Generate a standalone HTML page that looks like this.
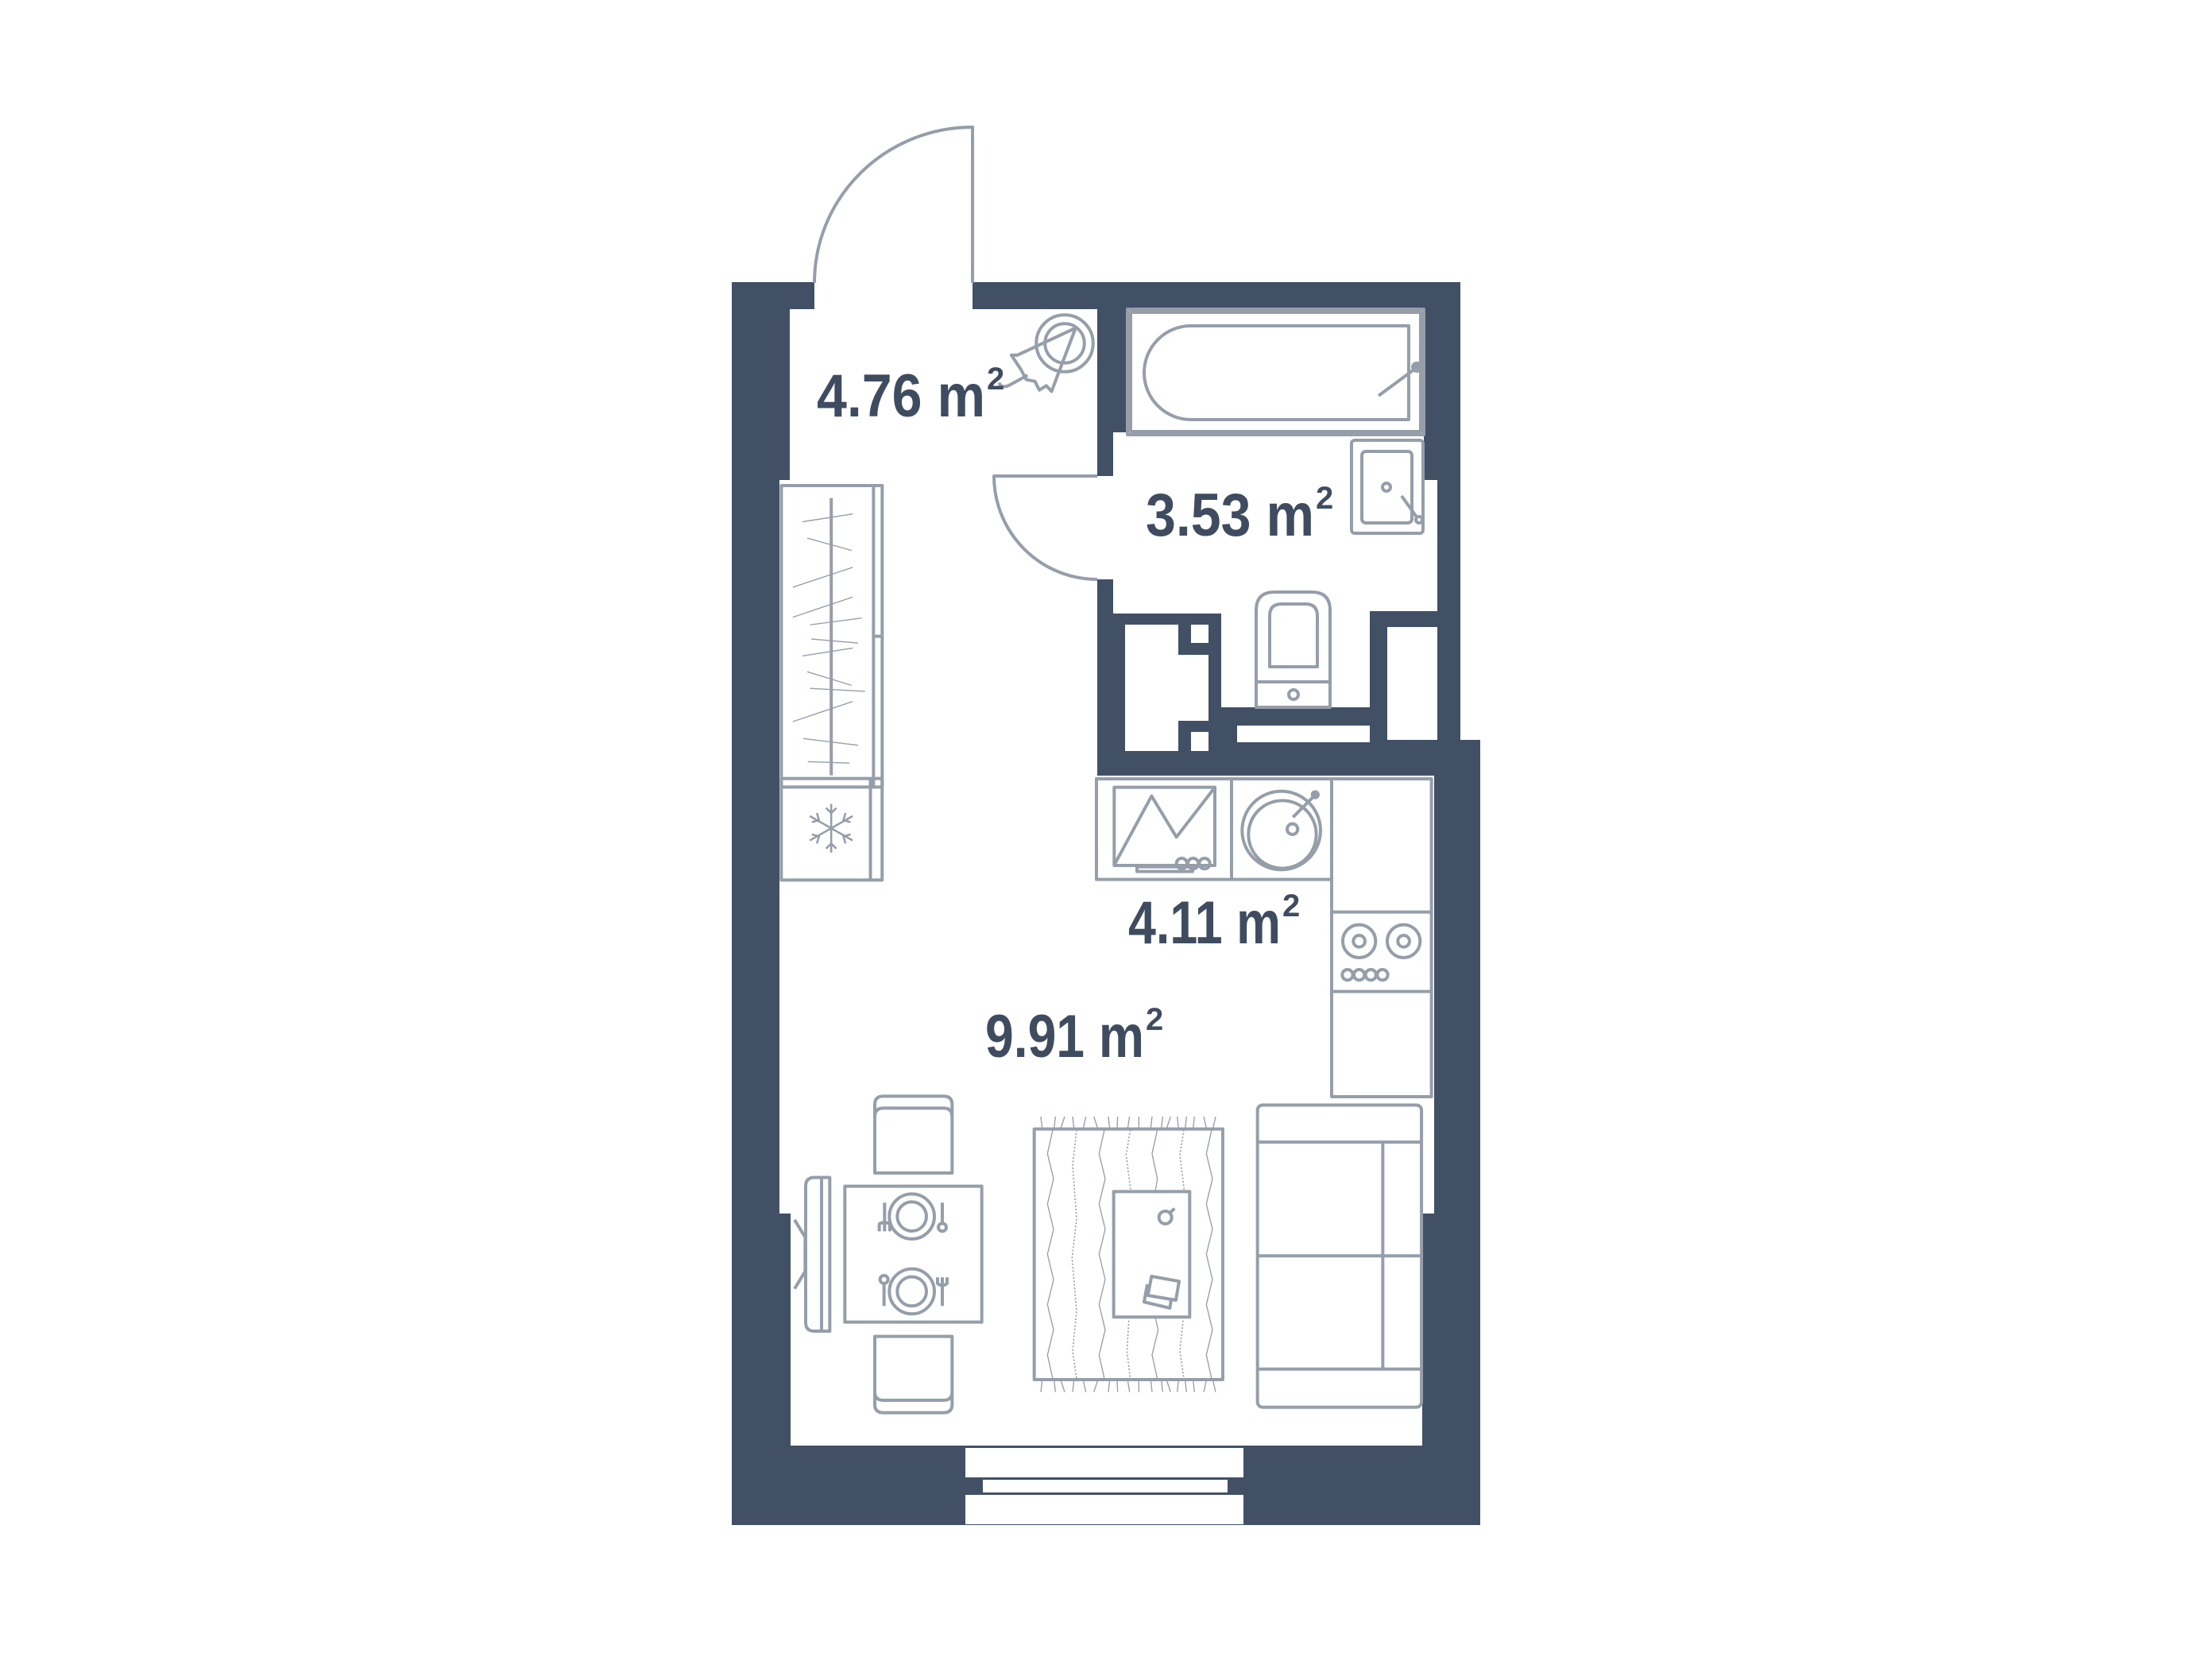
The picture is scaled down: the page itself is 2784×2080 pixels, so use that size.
<!DOCTYPE html>
<html><head><meta charset="utf-8"><style>
html,body{margin:0;padding:0;background:#fff;}
svg{display:block;}
.l{fill:none;stroke:#959ea9;stroke-width:4;vector-effect:non-scaling-stroke;stroke-linejoin:round;}
.w{fill:#425066;}
.t{font-family:"Liberation Sans",sans-serif;font-weight:bold;fill:#3f4c60;}
</style></head><body>
<svg width="2784" height="2080" viewBox="0 0 2784 2080" xmlns="http://www.w3.org/2000/svg">
<rect width="2784" height="2080" fill="#fff"/>
<g class="w">
<rect x="921" y="355" width="73" height="249"/>
<rect x="921" y="604" width="60" height="923"/>
<rect x="921" y="1527" width="74" height="391"/>
<rect x="921" y="355" width="104" height="34"/>
<rect x="1224" y="355" width="614" height="34"/>
<rect x="1381" y="389" width="38" height="155"/>
<rect x="1381" y="544" width="20" height="55"/>
<rect x="1381" y="729" width="20" height="247"/>
<rect x="1792" y="389" width="46" height="215"/>
<rect x="1809" y="604" width="29" height="327"/>
<rect x="1401" y="772" width="136" height="187"/>
<rect x="1537" y="890" width="187" height="69"/>
<rect x="1724" y="769" width="85" height="190"/>
<rect x="1381" y="931" width="482" height="45"/>
<rect x="1805" y="931" width="58" height="596"/>
<rect x="1790" y="1527" width="73" height="391"/>
<rect x="921" y="1819" width="942" height="100"/>
</g>
<g fill="#fff">
<rect x="1416" y="786" width="67" height="159"/>
<rect x="1483" y="824" width="38" height="83"/>
<rect x="1499" y="786" width="22" height="23"/>
<rect x="1499" y="921" width="22" height="24"/>
<rect x="1557" y="913" width="167" height="21"/>
<rect x="1746" y="789" width="63" height="142"/>
<rect x="1215" y="1822" width="350" height="37"/>
<rect x="1237" y="1862" width="308" height="16"/>
<rect x="1215" y="1881" width="350" height="37"/>
</g>
<path class="l" d="M1025,356 A199,196 0 0 1 1224,160 L1224,356"/>
<path class="l" d="M1381,599 L1251,599 A130,130 0 0 0 1381,729"/>
<g transform="translate(1340,432) scale(0.55) translate(-180,-185)">
<circle class="l" cx="180" cy="185" r="65"/>
<circle class="l" cx="180" cy="185" r="45" fill="#fff"/>
<path class="l" fill="#fff" d="M205,150 L150,295 L138,282 L122,292 L112,272 L92,268 L80,245 L58,212 L72,212 Z"/>
<path class="l" d="M95,258 L55,280 Q35,290 30,275"/>
</g>
<rect class="l" x="1419" y="389" width="373" height="158"/>
<rect class="l" x="1423" y="393" width="365" height="150"/>
<path class="l" d="M1499,410 L1773,410 L1773,528 L1499,528 A59,59 0 0 1 1499,410 Z"/>
<circle cx="1783" cy="462" r="7" fill="#959ea9"/>
<line class="l" x1="1781" y1="464" x2="1735" y2="498"/>
<rect class="l" x="1701" y="554" width="90" height="117" rx="4"/>
<rect class="l" x="1714" y="568" width="63" height="90" rx="5"/>
<circle class="l" cx="1745" cy="613" r="5"/>
<line class="l" x1="1764" y1="624" x2="1784" y2="652"/>
<circle class="l" cx="1786" cy="654" r="4"/>
<path class="l" d="M1581,890 L1581,768 Q1581,745 1604,745 L1651,745 Q1674,745 1674,768 L1674,890 Z"/>
<path class="l" d="M1598,839 L1598,775 Q1598,760 1613,760 L1643,760 Q1658,760 1658,775 L1658,839 Z"/>
<line class="l" x1="1581" y1="858" x2="1674" y2="858"/>
<circle class="l" cx="1628" cy="874" r="6"/>
<g transform="translate(980,600) scale(0.343)">
<rect class="l" x="10" y="32" width="370" height="1106"/>
<line class="l" x1="348" y1="35" x2="348" y2="1138"/>
<line class="l" x1="348" y1="585" x2="380" y2="585"/>
<line class="l" x1="193" y1="78" x2="193" y2="1095"/>
<g class="l">
<line x1="87" y1="165" x2="272" y2="136"/>
<line x1="105" y1="225" x2="268" y2="270"/>
<line x1="52" y1="405" x2="272" y2="332"/>
<line x1="52" y1="515" x2="272" y2="441"/>
<line x1="115" y1="543" x2="305" y2="518"/>
<line x1="120" y1="595" x2="292" y2="610"/>
<line x1="88" y1="657" x2="272" y2="628"/>
<line x1="105" y1="715" x2="268" y2="765"/>
<line x1="115" y1="776" x2="317" y2="787"/>
<line x1="52" y1="898" x2="272" y2="824"/>
<line x1="90" y1="960" x2="292" y2="985"/>
<line x1="107" y1="1045" x2="260" y2="1050"/>
</g>
</g>
<g transform="translate(900,940) scale(0.641,0.639)">
<rect class="l" x="130" y="62" width="198" height="200"/>
<line class="l" x1="305" y1="62" x2="305" y2="262"/>
<g class="l">
<line x1="228" y1="112" x2="228" y2="208"/>
<line x1="186" y1="136" x2="270" y2="184"/>
<line x1="186" y1="184" x2="270" y2="136"/>
<path d="M218,120 L228,130 L238,120 M218,200 L228,190 L238,200 M190,148 L204,144 L200,130 M266,172 L252,176 L256,190 M190,172 L204,176 L200,190 M266,148 L252,144 L256,130"/>
</g>
</g>
<g transform="translate(1370,970) scale(0.3333)">
<rect class="l" x="30" y="30" width="888" height="380"/>
<line class="l" x1="540" y1="30" x2="540" y2="410"/>
<rect class="l" x="918" y="30" width="377" height="1200"/>
<line class="l" x1="918" y1="533" x2="1295" y2="533"/>
<line class="l" x1="918" y1="833" x2="1295" y2="833"/>
<rect class="l" x="97" y="62" width="380" height="295"/>
<path class="l" d="M100,350 L238,95 L332,250 L475,65"/>
<rect class="l" x="183" y="362" width="210" height="18"/>
<circle class="l" cx="352" cy="350" r="20" fill="#fff"/>
<circle class="l" cx="395" cy="350" r="20" fill="#fff"/>
<circle class="l" cx="438" cy="350" r="20" fill="#fff"/>
<circle class="l" cx="728" cy="225" r="148"/>
<circle class="l" cx="732" cy="240" r="128"/>
<circle class="l" cx="770" cy="220" r="20"/>
<line class="l" x1="772" y1="175" x2="855" y2="92"/>
<circle cx="856" cy="90" r="17" fill="#959ea9"/>
<circle class="l" cx="1022" cy="643" r="62"/>
<circle class="l" cx="1022" cy="643" r="22"/>
<circle class="l" cx="1190" cy="643" r="62"/>
<circle class="l" cx="1190" cy="643" r="22"/>
<circle class="l" cx="978" cy="770" r="20"/>
<circle class="l" cx="1022" cy="770" r="20"/>
<circle class="l" cx="1066" cy="770" r="20"/>
<circle class="l" cx="1110" cy="770" r="20"/>
</g>
<g transform="translate(1000,1360) scale(0.3333)">
<path class="l" d="M303,348 L303,90 Q303,58 335,58 L563,58 Q595,58 595,90 L595,348 Z"/>
<path class="l" d="M303,135 Q303,103 335,103 L563,103 Q595,103 595,135"/>
<path class="l" d="M303,965 L303,1222 Q303,1253 335,1253 L563,1253 Q595,1253 595,1222 L595,965 Z"/>
<path class="l" d="M303,1175 Q303,1206 335,1206 L563,1206 Q595,1206 595,1175"/>
<rect class="l" x="190" y="398" width="517" height="513"/>
<circle class="l" cx="443" cy="512" r="85"/>
<circle class="l" cx="443" cy="512" r="55"/>
<circle class="l" cx="443" cy="795" r="85"/>
<circle class="l" cx="443" cy="795" r="55"/>
<path class="l" d="M340,460 L340,565 M320,568 L320,540 Q340,530 360,540 L360,568 M340,540 L340,568"/>
<line class="l" x1="558" y1="460" x2="558" y2="540"/>
<circle class="l" cx="558" cy="553" r="15"/>
<line class="l" x1="338" y1="760" x2="338" y2="850"/>
<circle class="l" cx="338" cy="750" r="15"/>
<path class="l" d="M558,742 L558,850 M540,742 L540,765 Q558,780 576,765 L576,742"/>
<path class="l" d="M133,945 L75,945 Q42,945 42,912 L42,398 Q42,365 75,365 L133,365 Z"/>
<line class="l" x1="102" y1="365" x2="102" y2="945"/>
<path class="l" d="M0,525 L40,590 L40,720 L0,785"/>
</g>
<g transform="translate(1300,1400) scale(0.3333)">
<rect class="l" x="5" y="62" width="712" height="946"/>
<g class="l">
<path d="M30,15 L35,60 M85,15 L80,60 M120,15 L105,60 M150,15 L155,60 M200,15 L190,60 M230,15 L245,60 M285,15 L290,60 M320,15 L318,60 M365,15 L358,60 M400,15 L400,60 M450,15 L445,60 M490,15 L485,60 M520,15 L505,60 M545,15 L550,60 M580,15 L575,60 M610,15 L605,60 M645,15 L655,60 M690,15 L680,60"/>
<path d="M30,1055 L35,1010 M85,1055 L80,1010 M120,1055 L105,1010 M150,1055 L155,1010 M200,1055 L190,1010 M230,1055 L245,1010 M285,1055 L290,1010 M320,1055 L318,1010 M365,1055 L358,1010 M400,1055 L400,1010 M450,1055 L445,1010 M490,1055 L485,1010 M520,1055 L505,1010 M545,1055 L550,1010 M580,1055 L575,1010 M610,1055 L605,1010 M645,1055 L655,1010 M690,1055 L680,1010"/>
<path d="M75,65 L55,155 L78,250 L55,345 L78,440 L55,535 L78,630 L55,725 L78,820 L55,915 L75,1005"/>
<path d="M270,65 L250,155 L273,250 L250,345 L273,440 L250,535 L273,630 L250,725 L273,820 L250,915 L270,1005"/>
<path d="M470,65 L450,155 L470,250 L462,298 M462,772 L473,820 L450,915 L470,1005"/>
<path d="M675,65 L655,155 L678,250 L655,345 L678,440 L655,535 L678,630 L655,725 L678,820 L655,915 L675,1005"/>
</g>
<g class="l" stroke-dasharray="6,7" style="stroke-width:5">
<path d="M165,65 L150,200 L165,400 L148,550 L165,750 L150,900 L165,1005"/>
<path d="M368,65 L352,160 L370,298 M363,772 L355,900 L368,1005"/>
<path d="M570,65 L555,160 L572,298 M568,772 L555,900 L570,1005"/>
</g>
<rect class="l" x="305" y="298" width="287" height="474"/>
<circle class="l" cx="500" cy="396" r="24"/>
<line class="l" x1="518" y1="378" x2="535" y2="362"/>
<path class="l" d="M432,648 L420,715 L517,738 L522,708"/>
<path class="l" d="M448,618 L552,637 L540,708 L434,690 Z" fill="#fff"/>
</g>
<g transform="translate(900,940) scale(0.641,0.639)">
<rect class="l" x="1065" y="705" width="322" height="595" rx="10"/>
<line class="l" x1="1065" y1="778" x2="1387" y2="778"/>
<line class="l" x1="1065" y1="1225" x2="1387" y2="1225"/>
<line class="l" x1="1065" y1="1002" x2="1387" y2="1002"/>
<line class="l" x1="1311" y1="778" x2="1311" y2="1225"/>
</g>
<text class="t" x="1028" y="524" font-size="76" textLength="212" lengthAdjust="spacingAndGlyphs">4.76 m</text>
<text class="t" x="1242" y="490" font-size="40">2</text>
<text class="t" x="1442" y="674" font-size="76" textLength="212" lengthAdjust="spacingAndGlyphs">3.53 m</text>
<text class="t" x="1656" y="640" font-size="40">2</text>
<text class="t" x="1420" y="1187" font-size="76" textLength="192" lengthAdjust="spacingAndGlyphs">4.11 m</text>
<text class="t" x="1614" y="1153" font-size="40">2</text>
<text class="t" x="1240" y="1330" font-size="76" textLength="200" lengthAdjust="spacingAndGlyphs">9.91 m</text>
<text class="t" x="1442" y="1296" font-size="40">2</text>
</svg>
</body></html>
